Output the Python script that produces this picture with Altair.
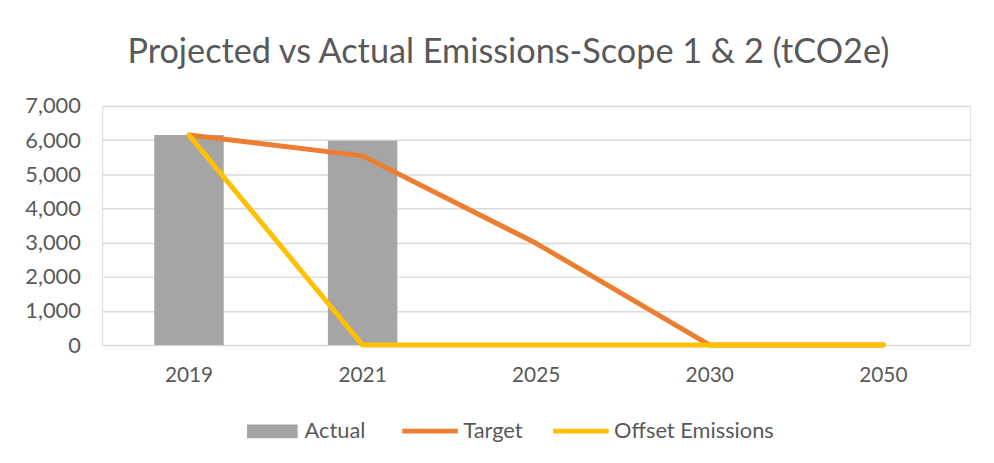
import altair as alt
import pandas as pd

years = ["2019", "2021", "2025", "2030", "2050"]
actual = [6150, 5980, None, None, None]
target = [6150, 5540, 2980, 0, 0]
offset = [6150, 0, 0, 0, 0]

bar_names = ["Actual"]
bar_colors = ["#a5a5a5"]
line_names = ["Target", "Offset Emissions"]
line_colors = ["#ed7d31", "#ffc000"]

bars = pd.DataFrame({"year": years, "value": actual, "series": "Actual"}).dropna()
lines = pd.concat([
    pd.DataFrame({"year": years, "value": target, "series": "Target", "order": 1}),
    pd.DataFrame({"year": years, "value": offset, "series": "Offset Emissions", "order": 2}),
])

FONT = "Lato"
GREY = "#595959"

x = alt.X("year:N", sort=years,
          scale=alt.Scale(paddingInner=0, paddingOuter=0),
          axis=alt.Axis(title=None, labelAngle=0, domain=False, ticks=False,
                        labelPadding=20, labelFontSize=21, labelColor=GREY,
                        labelFont=FONT, grid=False))
y = alt.Y("value:Q", scale=alt.Scale(domain=[0, 7000], nice=False),
          axis=alt.Axis(title=None, values=[0, 1000, 2000, 3000, 4000, 5000, 6000, 7000],
                        format=",.0f", domain=False, ticks=False, labelPadding=22,
                        labelFontSize=22, labelColor=GREY, labelFont=FONT,
                        gridColor="#d9d9d9", gridWidth=1.5))

legend_common = dict(orient="none", title=None, direction="horizontal", padding=0,
                     labelFontSize=22, labelColor=GREY, labelFont=FONT, labelLimit=400)

bar_color = alt.Color("series:N",
                      scale=alt.Scale(domain=bar_names, range=bar_colors),
                      legend=alt.Legend(symbolType="M-1,-0.275H1V0.275H-1Z",
                                        symbolSize=2601, symbolStrokeWidth=0,
                                        labelOffset=7, legendX=146, legendY=302.5,
                                        **legend_common))
line_color = alt.Color("series:N",
                       scale=alt.Scale(domain=line_names, range=line_colors),
                       legend=alt.Legend(symbolType="stroke", symbolSize=3136,
                                         symbolStrokeWidth=5, labelOffset=3,
                                         columnPadding=20, legendX=300, legendY=297,
                                         **legend_common))

bar_layer = alt.Chart(bars).mark_bar(width={"band": 0.4}).encode(x=x, y=y, color=bar_color)
line_layer = alt.Chart(lines).mark_line(strokeWidth=5, strokeCap="round", strokeJoin="round").encode(
    x=x, y=y, color=line_color, detail="series:N", order=alt.Order("order:Q"))

chart = alt.layer(bar_layer, line_layer).resolve_scale(color="independent").resolve_legend(
    color="independent").properties(
    width=875, height=241,
    autosize=alt.AutoSizeParams(type="none"),
    padding={"left": 95, "top": 97, "right": 16, "bottom": 109},
    title=alt.TitleParams("Projected vs Actual Emissions-Scope 1 & 2 (tCO2e)",
                          fontSize=34.5, font=FONT, fontWeight="normal", color=GREY,
                          anchor="middle", dx=-28, offset=-2, baseline="alphabetic"),
).configure_view(stroke=None).configure(background="white")

chart.save("out.html", embed_options={"renderer": "svg", "actions": False})
